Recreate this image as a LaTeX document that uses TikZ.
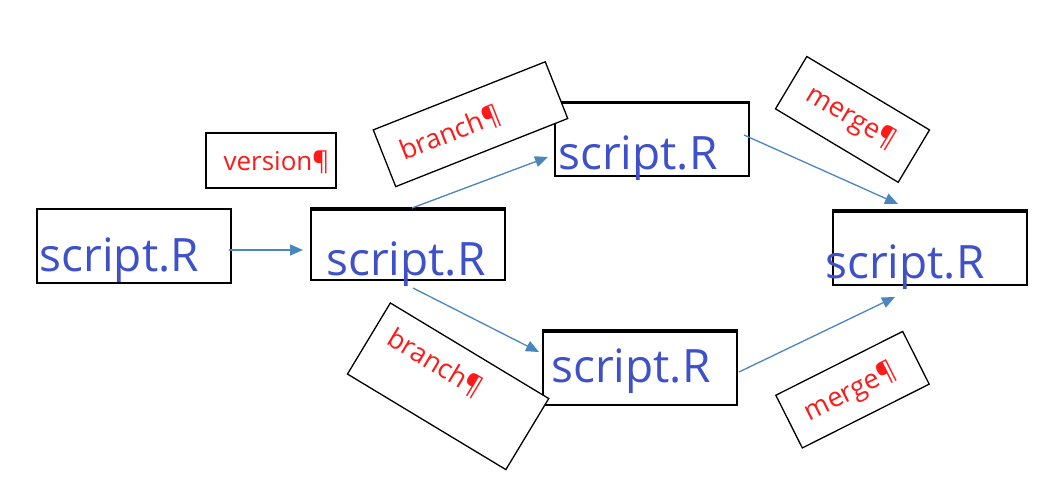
\documentclass[tikz,border=0pt]{standalone}
\usepackage{fontspec}
\setmainfont{Open Sans}
\usetikzlibrary{arrows.meta,calc}
\definecolor{sblue}{HTML}{3F51C9}
\definecolor{lred}{HTML}{FF1A1A}
\definecolor{arr}{HTML}{4A86BE}
\begin{document}
\begin{tikzpicture}[x=1pt,y=-1pt,
  sbox/.style={draw=black, line width=2pt, rectangle, inner sep=0pt, minimum width=194pt, minimum height=73pt},
  topline/.style={line width=3.5pt},
  stext/.style={text=sblue, font=\fontsize{46}{50}\selectfont, inner sep=0pt, anchor=base west},
  lbox/.style={draw=black, line width=1.3pt, fill=white, rectangle, inner sep=0pt, transform shape},
  ltext/.style={text=lred, font=\fontsize{27}{30}\selectfont, inner sep=0pt, transform shape},
  conn/.style={draw=arr, line width=1.3pt, -{Triangle[length=13pt,width=11pt]}}]
\useasboundingbox (0,0) rectangle (1046,478);

% script boxes
\node[sbox] (A) at (133.5,246) {};
\node[sbox, minimum height=70pt] (B) at (408,245) {};
\node[sbox] (C) at (652,140) {};
\node[sbox] (D) at (640,368.5) {};
\node[sbox] (E) at (930,248.5) {};
\draw[topline] (B.north west) -- (B.north east);
\draw[topline] (C.north west) -- (C.north east);
\draw[topline] (D.north west) -- (D.north east);
\draw[topline] (E.north west) -- (E.north east);

\node[stext] (At) at (39.5,272) {script.R};
\node[stext] (Bt) at (326,276) {script.R};
\node[stext] (Ct) at (558,170) {script.R};
\node[stext] (Dt) at (551,382) {script.R};
\node[stext] (Et) at (825,278) {script.R};

% connectors
\draw[conn] ([shift={(-3pt,-4pt)}]A.east) -- ([shift={(-7pt,-5pt)}]B.west);
\draw[conn] ([shift={(4pt,1pt)}]B.north) -- ([shift={(-6pt,-17pt)}]C.west);
\draw[conn] ([shift={(5pt,-7pt)}]B.south) -- ([shift={(-3pt,16.5pt)}]D.west);
\draw[conn] ([shift={(-6pt,5pt)}]C.east) -- ([shift={(-32pt,7pt)}]E.north);
\draw[conn] ([shift={(1pt,-3.5pt)}]D.east) -- ([shift={(-35pt,-11pt)}]E.south);

% labels
\node[lbox, minimum width=130pt, minimum height=55pt] (ver) at (271,160.5) {};
\node[ltext, font=\fontsize{26}{30}\selectfont] (vert) at (276.5,162) {version¶};

\begin{scope}[shift={(470.5,124.2)}, rotate=21.6]
  \node[lbox, minimum width=185pt, minimum height=61pt] (br1) at (0,0) {};
  \node[ltext] (br1t) at (-22,1) {branch¶};
\end{scope}
\begin{scope}[shift={(448.1,386.3)}, rotate=-31.1]
  \node[lbox, minimum width=185pt, minimum height=83pt] (br2) at (0,0) {};
  \node[ltext] (br2t) at (-23,-13) {branch¶};
\end{scope}
\begin{scope}[shift={(852.5,119.4)}, rotate=-30.9]
  \node[lbox, minimum width=143pt, minimum height=61pt] (mg1) at (0,0) {};
  \node[ltext] (mg1t) at (-2,0) {merge¶};
\end{scope}
\begin{scope}[shift={(852.5,389.7)}, rotate=26.7]
  \node[lbox, minimum width=142pt, minimum height=59pt] (mg2) at (0,0) {};
  \node[ltext] (mg2t) at (-3,2) {merge¶};
\end{scope}
\end{tikzpicture}
\end{document}
